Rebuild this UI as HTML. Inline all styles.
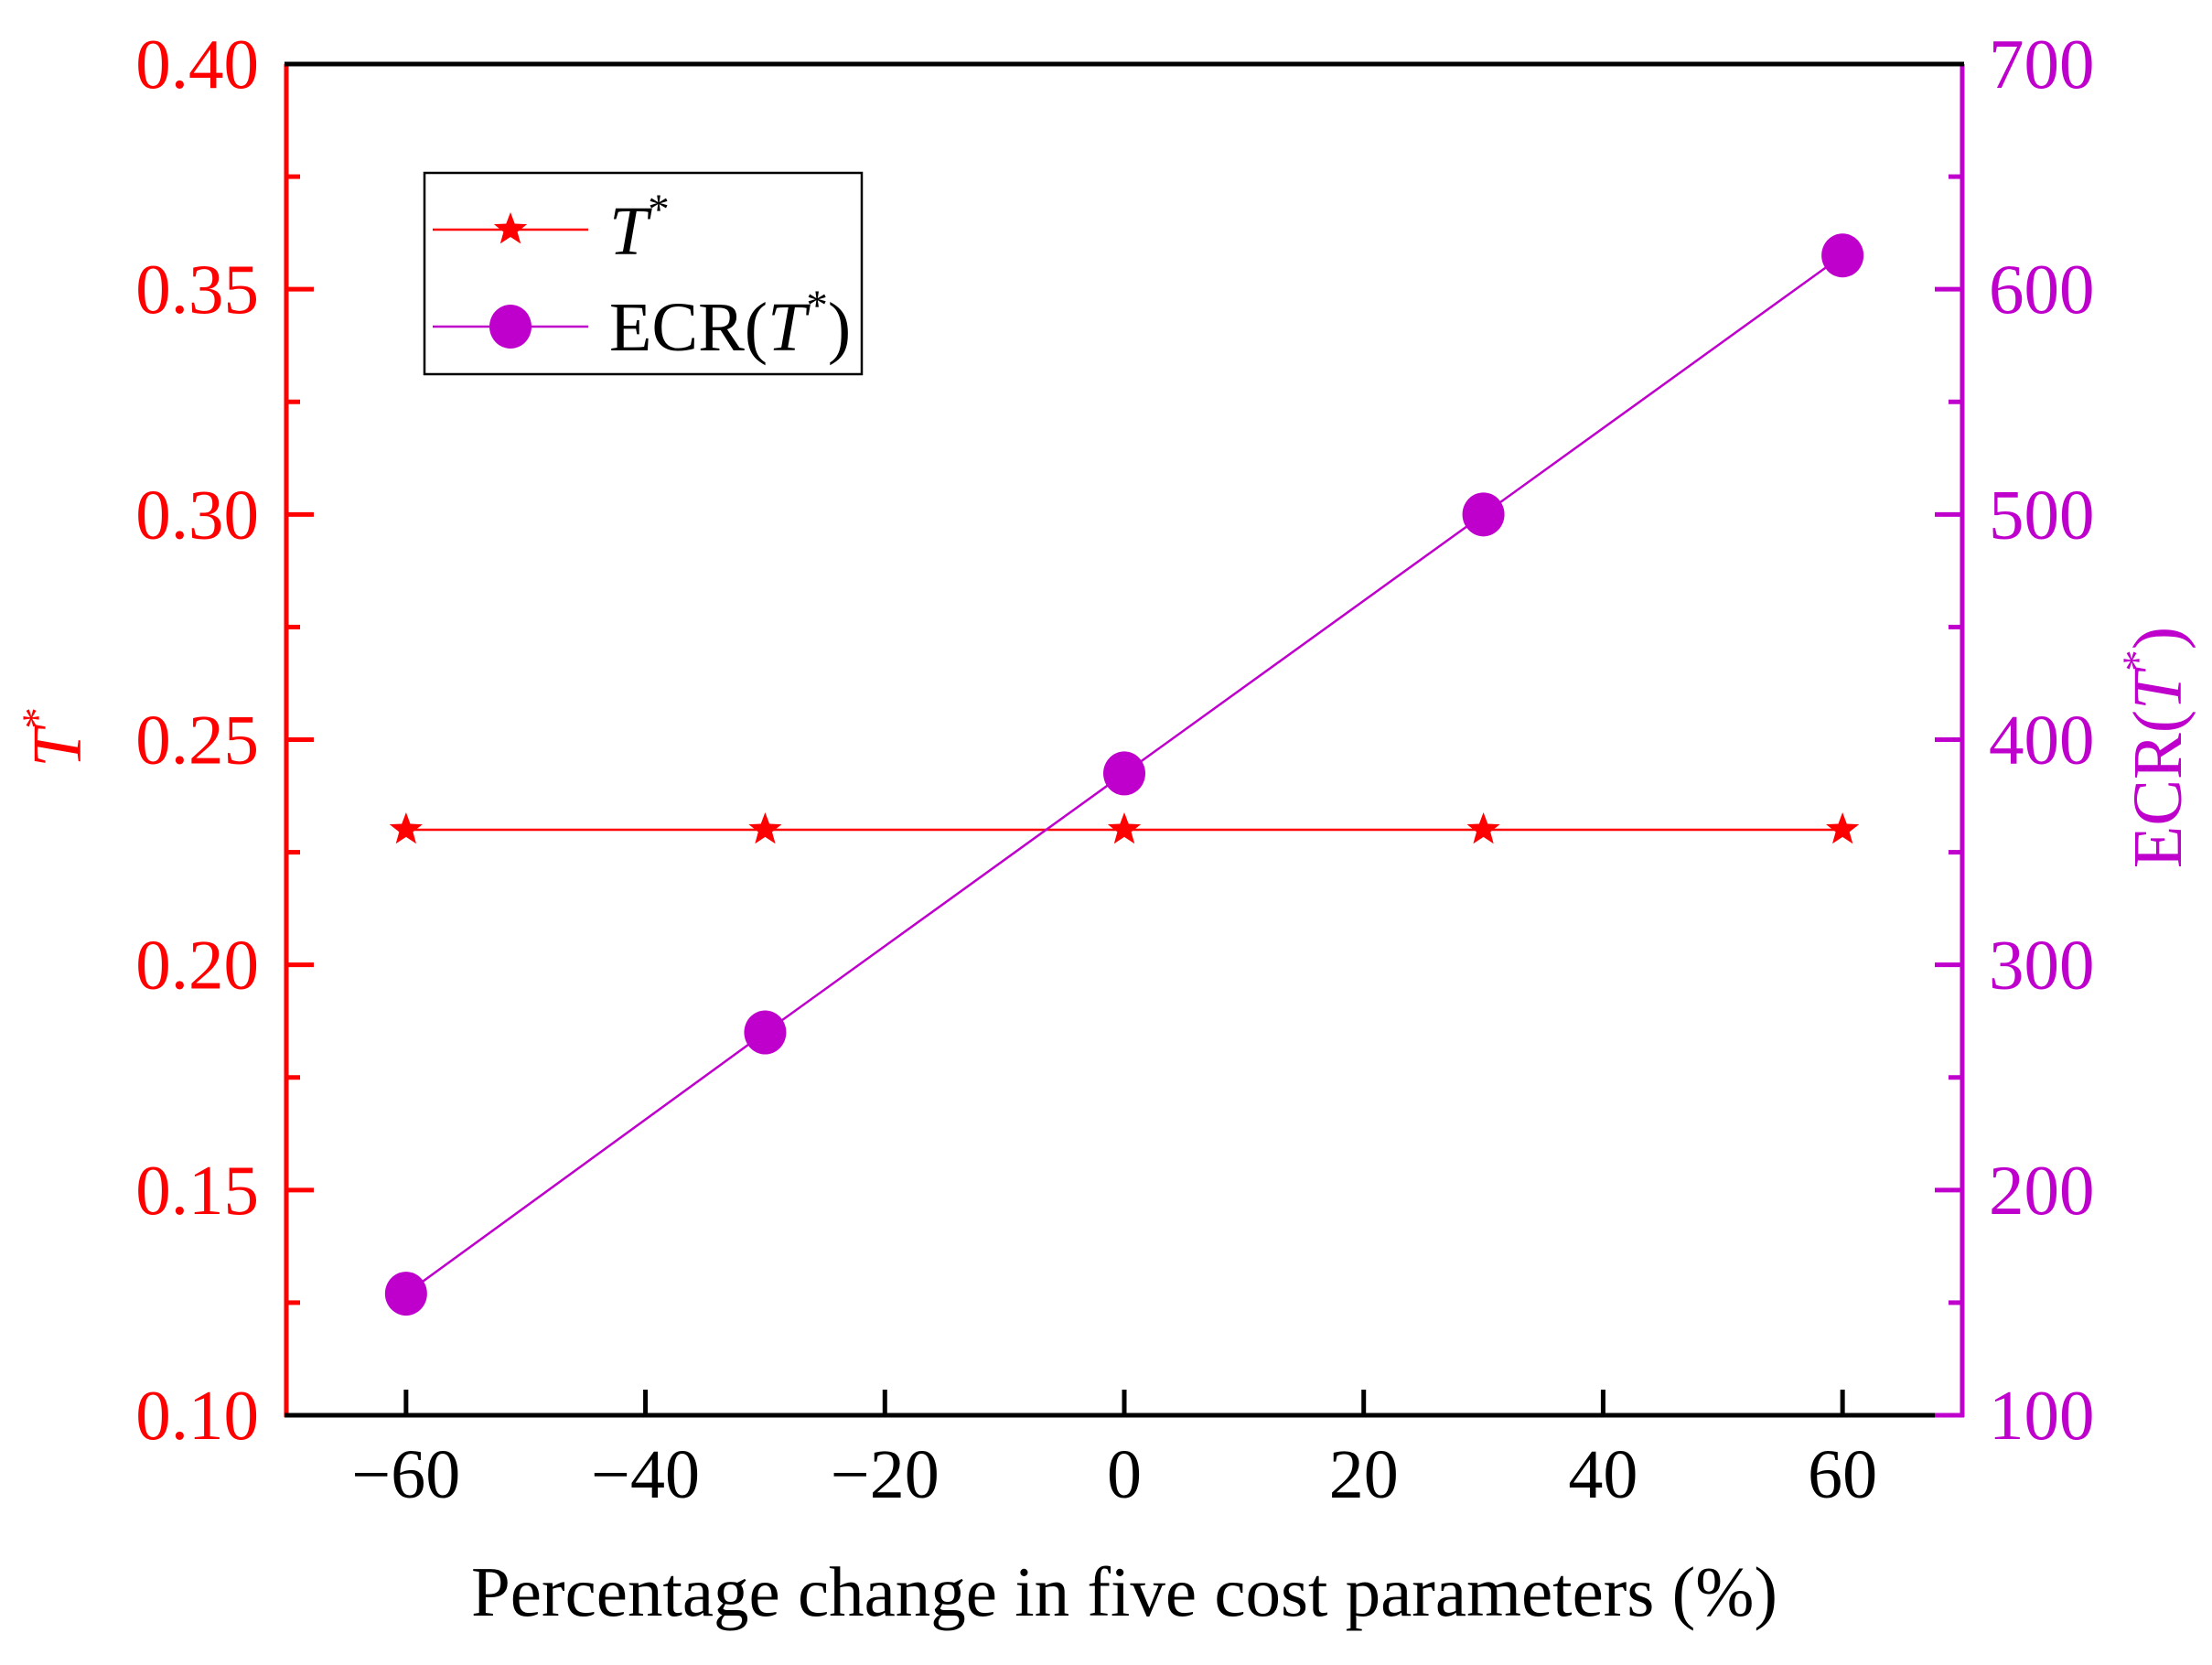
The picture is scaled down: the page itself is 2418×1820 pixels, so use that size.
<!DOCTYPE html>
<html><head><meta charset="utf-8"><style>
html,body{margin:0;padding:0;background:#fff;}
svg{display:block;font-family:"Liberation Serif",serif;}
</style></head><body>
<svg id="chart" width="2418" height="1820" viewBox="0 0 2418 1820" xmlns="http://www.w3.org/2000/svg">
<rect x="0" y="0" width="2418" height="1820" fill="#fff"/>
<g id="series"></g>
<g id="axes"></g>
<g id="frame"></g>
<g id="legend">
  <rect x="464" y="189" width="478" height="220" fill="#fff" stroke="#000" stroke-width="2.5"/>
  <g>
    <line x1="473" y1="251" x2="643" y2="251" stroke="#ff0000" stroke-width="2.5"/>
    <polygon id="legstar" fill="#ff0000"/>
    <text x="666" y="278" font-size="76" font-style="italic">T<tspan dy="-34" font-size="47" font-style="normal">*</tspan></text>
  </g>
  <g>
    <line x1="473" y1="357" x2="643" y2="357" stroke="#bf00cc" stroke-width="2.5"/>
    <ellipse cx="558" cy="357" rx="23" ry="24" fill="#bf00cc"/>
    <text x="666" y="383" font-size="76">ECR(<tspan font-style="italic">T</tspan><tspan dy="-34" font-size="47">*</tspan><tspan dy="34">)</tspan></text>
  </g>
</g>
</svg>
<script>
const categories = [-60, -30, 0, 30, 60];
const tStarValues = [0.23, 0.23, 0.23, 0.23, 0.23];
const ecrValues = [154, 270, 385, 500, 615];
const xTicks = [-60, -40, -20, 0, 20, 40, 60];
const xTickLabels = ["\u221260", "\u221240", "\u221220", "0", "20", "40", "60"];
const leftTicks = [0.10, 0.15, 0.20, 0.25, 0.30, 0.35, 0.40];
const leftTickLabels = ["0.10","0.15","0.20","0.25","0.30","0.35","0.40"];
const rightTicks = [100, 200, 300, 400, 500, 600, 700];
const rightTickLabels = ["100","200","300","400","500","600","700"];

const L=313, R=2145, T=70, B=1547;
const xS = v => L + (v - (-70)) / 140 * (R - L);
const yL = v => B - (v - 0.10) / 0.30 * (B - T);
const yR = v => B - (v - 100) / 600 * (B - T);
const NS="http://www.w3.org/2000/svg";
const RED="#ff0000", MAG="#bf00cc";
function mk(tag, attrs, parent, txt){
  const e=document.createElementNS(NS,tag);
  for(const k in attrs) e.setAttribute(k, attrs[k]);
  if(txt!==undefined) e.textContent=txt;
  parent.appendChild(e); return e;
}
function starPts(cx,cy,r){
  const p=[];
  for(let i=0;i<10;i++){
    const a=-Math.PI/2+i*Math.PI/5, rr=i%2?r*0.42:r;
    p.push((cx+rr*Math.cos(a)).toFixed(1)+","+(cy+rr*Math.sin(a)).toFixed(1));
  }
  return p.join(" ");
}
document.getElementById('legstar').setAttribute('points', starPts(558,251,19));

const series=document.getElementById('series');
const axes=document.getElementById('axes');
const frame=document.getElementById('frame');

let tl = mk('polyline',{points:categories.map((c,i)=>xS(c)+","+yL(tStarValues[i])).join(" "),fill:"none",stroke:RED,"stroke-width":2.5},series);


let el2 = mk('polyline',{points:categories.map((c,i)=>xS(c)+","+yR(ecrValues[i])).join(" "),fill:"none",stroke:MAG,"stroke-width":2.5},series);


categories.forEach((c,i)=>{
  const s=mk('polygon',{points:starPts(xS(c),yL(tStarValues[i]),19),fill:RED},series);
  
  
  const ci=mk('ellipse',{cx:xS(c),cy:yR(ecrValues[i]),rx:23,ry:24,fill:MAG},series);
  
  
});

xTicks.forEach((v,i)=>{
  mk('line',{x1:xS(v),y1:B,x2:xS(v),y2:B-28,stroke:"#000","stroke-width":5},axes);
  const t=mk('text',{x:xS(v),y:1637,"font-size":76,"text-anchor":"middle",fill:"#000"},axes,xTickLabels[i]);
  
  
});
leftTicks.forEach((v,i)=>{
  mk('line',{x1:L,y1:yL(v),x2:L+30,y2:yL(v),stroke:RED,"stroke-width":5},axes);
  if(i<leftTicks.length-1){const m=(v+leftTicks[i+1])/2;mk('line',{x1:L,y1:yL(m),x2:L+15,y2:yL(m),stroke:RED,"stroke-width":5},axes);}
  const t=mk('text',{x:283,y:yL(v)+26,"font-size":77,"text-anchor":"end",fill:RED},axes,leftTickLabels[i]);
  
  
});
rightTicks.forEach((v,i)=>{
  mk('line',{x1:R,y1:yR(v),x2:R-30,y2:yR(v),stroke:MAG,"stroke-width":5},axes);
  if(i<rightTicks.length-1){const m=(v+rightTicks[i+1])/2;mk('line',{x1:R,y1:yR(m),x2:R-15,y2:yR(m),stroke:MAG,"stroke-width":5},axes);}
  const t=mk('text',{x:2174,y:yR(v)+26,"font-size":77,"text-anchor":"start",fill:MAG},axes,rightTickLabels[i]);
  
  
});

// frame lines drawn on top of ticks
let la=mk('line',{x1:L,y1:T,x2:L,y2:B+2,stroke:RED,"stroke-width":5},frame);


let ra=mk('line',{x1:R,y1:T,x2:R,y2:B+2,stroke:MAG,"stroke-width":5},frame);


let ta=mk('line',{x1:L-2,y1:T,x2:R+2,y2:T,stroke:"#000","stroke-width":5},frame);


let ba=mk('line',{x1:L-2,y1:B,x2:R-30,y2:B,stroke:"#000","stroke-width":5},frame);


mk('line',{x1:R-30,y1:B,x2:R+2,y2:B,stroke:MAG,"stroke-width":5},frame);
</script>
<svg style="position:absolute;left:0;top:0" width="2418" height="1820" xmlns="http://www.w3.org/2000/svg">
  <text x="1229" y="1766" font-size="77" text-anchor="middle" font-family="Liberation Serif,serif">Percentage change in five cost parameters (%)</text>
  <text transform="translate(88,806) rotate(-90)" font-size="76" text-anchor="middle" fill="#ff0000" font-family="Liberation Serif,serif"><tspan font-style="italic">T</tspan><tspan dy="-32" font-size="47">*</tspan></text>
  <text transform="translate(2384,817) rotate(-90)" font-size="76" text-anchor="middle" fill="#bf00cc" font-family="Liberation Serif,serif">ECR(<tspan font-style="italic">T</tspan><tspan dy="-32" font-size="47">*</tspan><tspan dy="32">)</tspan></text>
</svg>
</body></html>
